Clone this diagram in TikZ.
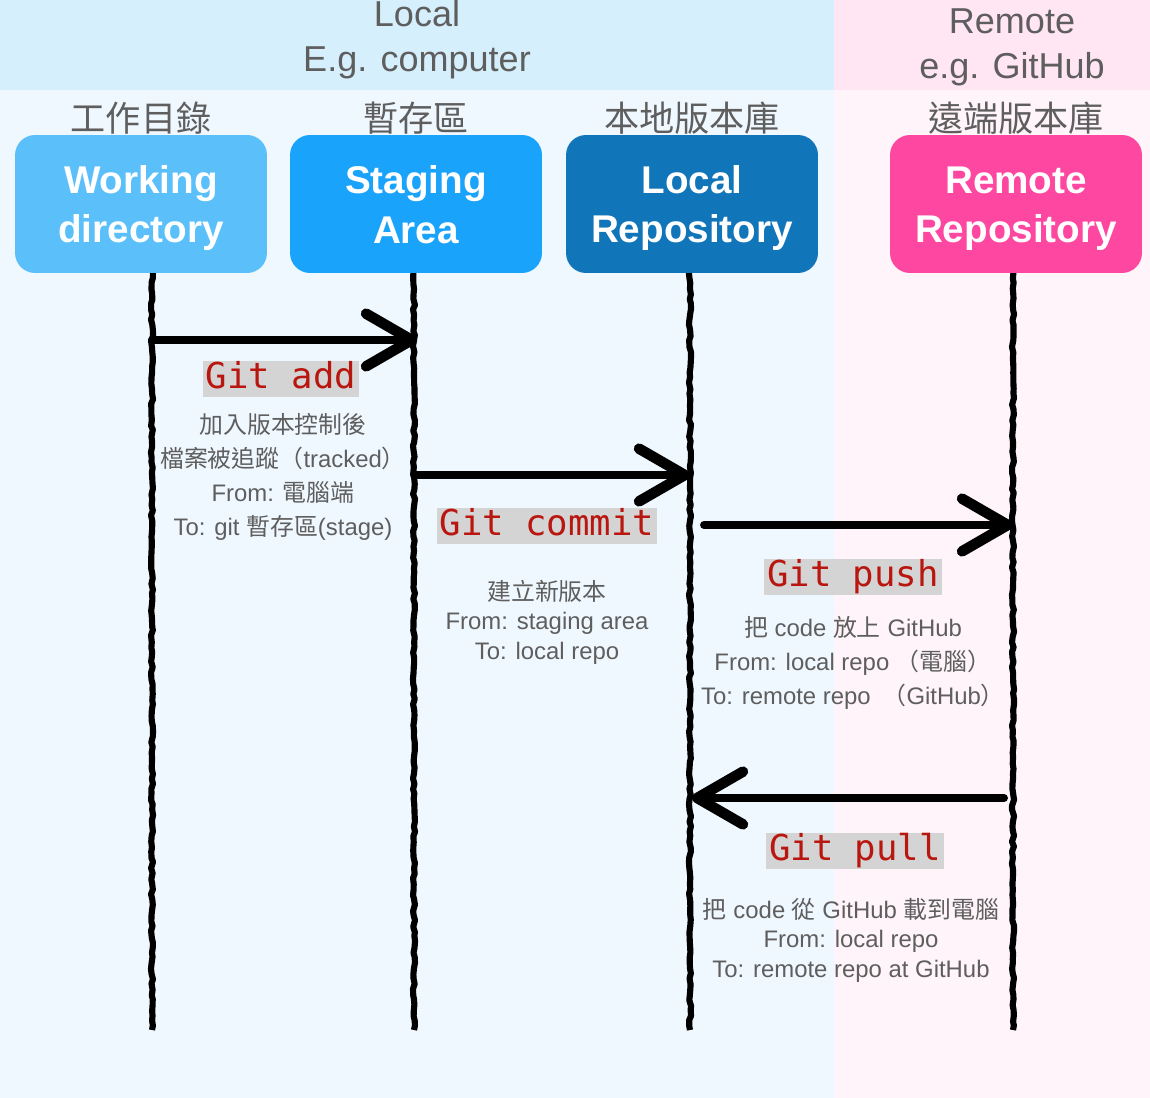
\documentclass[tikz,border=0pt]{standalone}
\usepackage{fontspec}
\setmainfont{Liberation Sans}
\newfontfamily\cjkfont{Noto Sans CJK TC}
\newfontfamily\codefont{DejaVu Sans Mono}
\usetikzlibrary{arrows.meta,decorations.pathmorphing}

\definecolor{localtop}{HTML}{D6EFFC}
\definecolor{localbg}{HTML}{F0F8FF}
\definecolor{remotetop}{HTML}{FFE6F2}
\definecolor{remotebg}{HTML}{FFF4F9}
\definecolor{wdcol}{HTML}{5BC0FA}
\definecolor{stcol}{HTML}{1AA3FB}
\definecolor{lrcol}{HTML}{1175B9}
\definecolor{rrcol}{HTML}{FD47A0}
\definecolor{txtgray}{HTML}{5E5E5E}
\definecolor{codered}{HTML}{B8160F}
\definecolor{codebg}{HTML}{D4D4D4}

\newcommand{\zhtext}[1]{{\cjkfont #1}}
\newcommand{\boxlines}[2]{\rule{0pt}{0.74cm}#1\\#2\rule[-0.16cm]{0pt}{0.16cm}}

\tikzset{
  zone/.style={text=txtgray, align=center, font=\fontsize{20.5}{25.6}\selectfont},
  zhlabel/.style={text=txtgray, font=\cjkfont\fontsize{20}{24}\selectfont},
  repo/.style={rounded corners=0.4cm, minimum width=5.04cm, minimum height=2.76cm,
    text=white, align=center, inner ysep=0pt, font=\bfseries\fontsize{22}{27.9}\selectfont},
  lifeline/.style={line width=3.5pt, line join=round, decorate,
    decoration={random steps, segment length=3pt, amplitude=0.6pt}},
  flow/.style={line width=4.5pt, line cap=round,
    -{Straight Barb[length=26pt,width=30pt,line width=6pt,round]}},
  gitcmd/.style={fill=codebg, text=codered, font=\codefont\fontsize{20.3}{24}\selectfont,
    inner xsep=1.5pt, inner ysep=0.03cm, text height=0.52cm, text depth=0.14cm},
  note/.style={text=txtgray, align=center, font=\fontsize{13.6}{#1}\selectfont},
  note/.default=19.5
}

\begin{document}
\begin{tikzpicture}[x=0.02cm, y=-0.02cm]
  \useasboundingbox (0,0) rectangle (1150,1098);
  \clip (0,0) rectangle (1150,1098);

  % background zones
  \fill[localbg] (0,90) rectangle (834,1098);
  \fill[localtop] (0,0) rectangle (834,90);
  \fill[remotebg] (834,90) rectangle (1150,1098);
  \fill[remotetop] (834,0) rectangle (1150,90);

  \node[zone] (local) at (417,40) {Local\\E.g. computer};
  \node[zone] (remote) at (1012,47) {Remote\\e.g. GitHub};

  % lifelines
  \coordinate (wd-top) at (152,262);
  \coordinate (wd-bot) at (152,1030);
  \coordinate (st-top) at (414,262);
  \coordinate (st-bot) at (414,1030);
  \coordinate (lr-top) at (690,262);
  \coordinate (lr-bot) at (690,1030);
  \coordinate (rr-top) at (1013,262);
  \coordinate (rr-bot) at (1013,1030);
  \draw[lifeline] (wd-top) -- (wd-bot);
  \draw[lifeline] (st-top) -- (st-bot);
  \draw[lifeline] (lr-top) -- (lr-bot);
  \draw[lifeline] (rr-top) -- (rr-bot);

  % areas
  \node[zhlabel] (wd-zh) at (141,118) {工作目錄};
  \node[zhlabel] (st-zh) at (416,118) {暫存區};
  \node[zhlabel] (lr-zh) at (692,118) {本地版本庫};
  \node[zhlabel] (rr-zh) at (1016,118) {遠端版本庫};

  \node[repo, fill=wdcol] (wd) at (141,204) {\boxlines{Working}{directory}};
  \node[repo, fill=stcol] (st) at (416,204) {\boxlines{Staging}{Area}};
  \node[repo, fill=lrcol] (lr) at (692,204) {\boxlines{Local}{Repository}};
  \node[repo, fill=rrcol] (rr) at (1016,204) {\boxlines{Remote}{Repository}};

  % git add
  \coordinate (add-from) at (152,340);
  \coordinate (add-to) at (417,340);
  \draw[flow] (add-from) -- (add-to);
  \node[gitcmd] (add) at (281,379) {Git add};
  \node[note] (add-note) at (283,477) {\zhtext{加入版本控制後}\\
    \zhtext{檔案被追蹤（}tracked\zhtext{）}\\
    From: \zhtext{電腦端}\\
    To: git \zhtext{暫存區}(stage)};

  % git commit
  \coordinate (commit-from) at (414,475);
  \coordinate (commit-to) at (690,475);
  \draw[flow] (commit-from) -- (commit-to);
  \node[gitcmd] (commit) at (547,526) {Git commit};
  \node[note=16.8] (commit-note) at (547,622) {\zhtext{建立新版本}\\
    From: staging area\\
    To: local repo};

  % git push
  \coordinate (push-from) at (704,525);
  \coordinate (push-to) at (1013,525);
  \draw[flow] (push-from) -- (push-to);
  \node[gitcmd] (push) at (853,577) {Git push};
  \node[note] (push-note) at (853,663) {\zhtext{把} code \zhtext{放上} GitHub\\
    From: local repo \zhtext{（電腦）}\\
    To: remote repo\enspace\zhtext{（}GitHub\zhtext{）}};

  % git pull
  \coordinate (pull-from) at (1004,798);
  \coordinate (pull-to) at (692,798);
  \draw[flow] (pull-from) -- (pull-to);
  \node[gitcmd] (pull) at (855,851) {Git pull};
  \node[note=16.8] (pull-note) at (851,940) {\zhtext{把} code \zhtext{從} GitHub \zhtext{載到電腦}\\
    From: local repo\\
    To: remote repo at GitHub};
\end{tikzpicture}
\end{document}
